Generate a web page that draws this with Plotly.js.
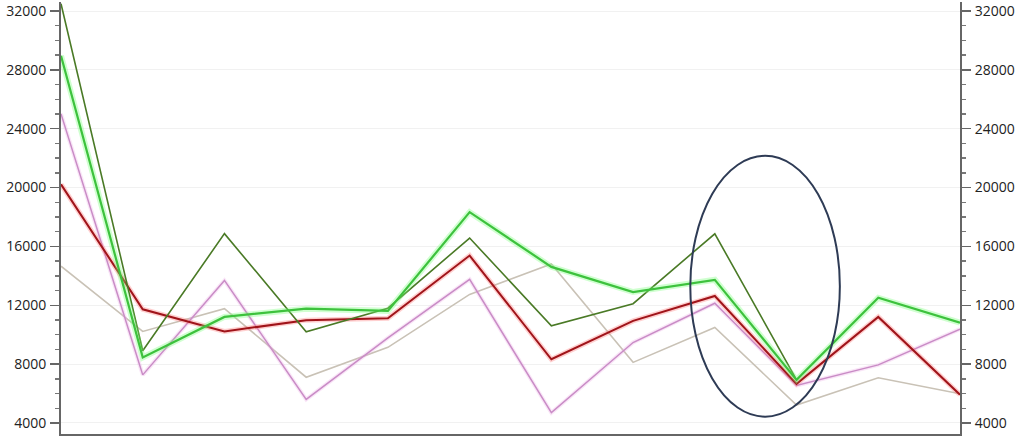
<!DOCTYPE html>
<html>
<head>
<meta charset="utf-8">
<script src="https://cdn.plot.ly/plotly-3.0.1.min.js"></script>
<style>html,body{margin:0;padding:0;background:#fff;}#chart{width:1027px;height:436px;}</style>
</head>
<body>
<div id="chart"></div>
<script>
// categories (12 unlabeled periods)
const categories = [0,1,2,3,4,5,6,7,8,9,10,11];
// series values
const darkGreen   = [32500, 8910, 16870, 10200, 11800, 16570, 10600, 12110, 16860, 6930, null, null];
const brightGreen = [28960, 8460, 11210, 11770, 11620, 18330, 14610, 12900, 13730, 6930, 12510, 10820];
const redSeries   = [20220, 11730, 10220, 10990, 11120, 15380, 8330, 10940, 12630, 6660, 11210, 5920];
const pinkSeries  = [25010, 7270, 13690, 5600, 9790, 13760, 4700, 9470, 12140, 6550, 7950, 10380];
const beigeSeries = [14660, 10220, 11770, 7110, 9140, 12740, 14810, 8120, 10490, 5220, 7070, 5990];
// y tick values and labels
const yTicks = [4000, 8000, 12000, 16000, 20000, 24000, 28000, 32000];
const yTickLabels = ['4000', '8000', '12000', '16000', '20000', '24000', '28000', '32000'];
// highlight ellipse bounds (data coords)
const ellipseX = [7.70, 9.53];
const ellipseY = [4430, 22160];

const yRange = [3252, 32612];

function line(y, color, width) {
  return {x: categories, y: y, type: 'scatter', mode: 'lines',
    line: {color: color, width: width}, hoverinfo: 'skip', showlegend: false, connectgaps: false};
}

const traces = [
  line(beigeSeries, '#c9c2b6', 1.6),
  line(pinkSeries, 'rgba(235,170,230,0.3)', 4),
  line(pinkSeries, '#c98cc6', 1.5),
  line(redSeries, 'rgba(255,120,120,0.35)', 5),
  line(redSeries, '#a0141a', 2),
  line(darkGreen, '#4a7a26', 1.6),
  line(brightGreen, 'rgba(120,255,120,0.35)', 6),
  line(brightGreen, '#3dc23d', 2.2),
  {x: [0], y: [null], type: 'scatter', mode: 'lines', yaxis: 'y2', hoverinfo: 'skip', showlegend: false}
];

const axisFont = {family: 'Open Sans, Noto Sans, sans-serif', size: 14, color: '#222'};

function yAxis(extra) {
  return Object.assign({
    range: yRange, tickmode: 'array', tickvals: yTicks, ticktext: yTickLabels,
    ticks: 'outside', ticklen: 9, tickcolor: '#666', tickwidth: 1.5,
    minor: {dtick: 1000, tick0: 0, ticks: 'outside', ticklen: 4, tickcolor: '#777', showgrid: false},
    showline: true, linecolor: '#666', linewidth: 2, zeroline: false,
    tickfont: axisFont, ticklabelstandoff: 1, ticklabeloverflow: 'allow', fixedrange: true
  }, extra);
}

const layout = {
  width: 1027, height: 436,
  margin: {l: 61, r: 67, t: 2, b: 2},
  paper_bgcolor: '#fff', plot_bgcolor: '#fff',
  showlegend: false,
  xaxis: {
    range: [0, 11], tickmode: 'array', tickvals: categories, showticklabels: false,
    ticks: 'outside', ticklen: 6, tickcolor: '#666', tickwidth: 1.5,
    showline: true, linecolor: '#666', linewidth: 2, showgrid: false, zeroline: false, fixedrange: true
  },
  yaxis: yAxis({showgrid: true, gridcolor: '#f1f1f1', gridwidth: 1}),
  yaxis2: yAxis({overlaying: 'y', side: 'right', showgrid: false}),
  shapes: [{
    type: 'circle', xref: 'x', yref: 'y',
    x0: ellipseX[0], x1: ellipseX[1], y0: ellipseY[0], y1: ellipseY[1],
    line: {color: '#2e3b55', width: 2}, fillcolor: 'rgba(0,0,0,0)'
  }]
};

Plotly.newPlot('chart', traces, layout, {displayModeBar: false, staticPlot: true});
</script>
</body>
</html>
